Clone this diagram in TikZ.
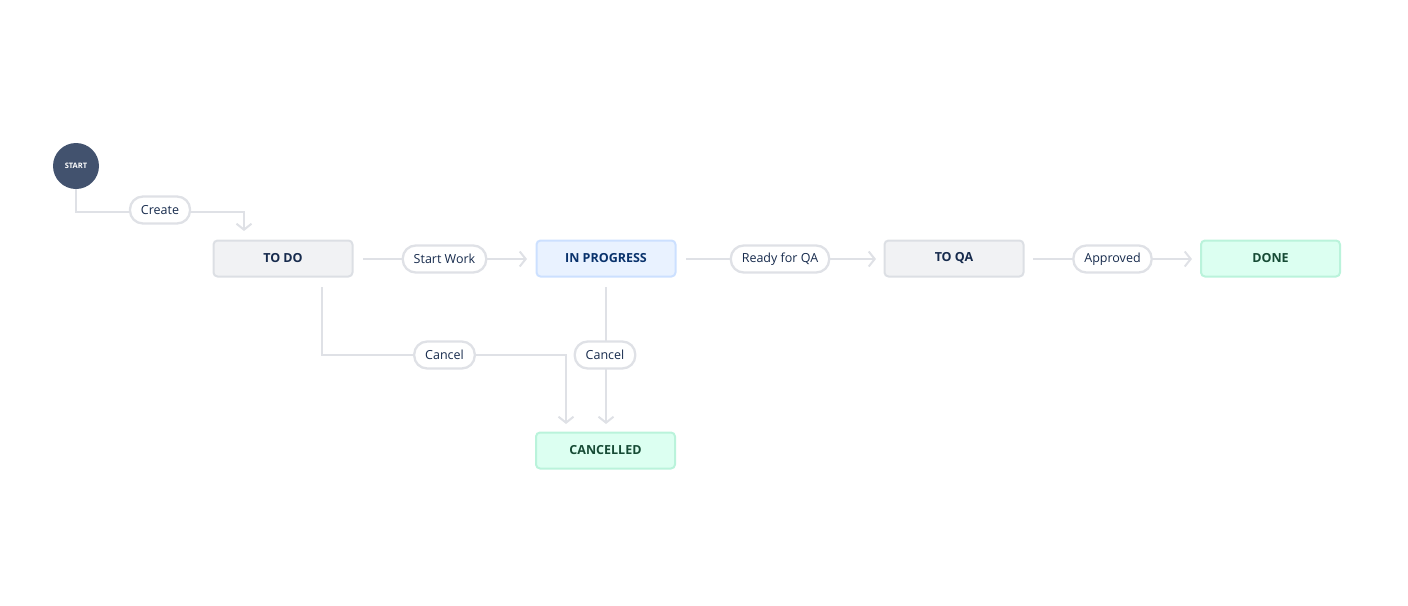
\documentclass[tikz,border=0pt]{standalone}
\usepackage{fontspec}
\setmainfont{Open Sans}
\usetikzlibrary{arrows.meta}
\definecolor{edgec}{HTML}{DFE1E6}
\definecolor{txt}{HTML}{172B4D}
\definecolor{startc}{HTML}{42526E}
\definecolor{grayf}{HTML}{F1F2F4}
\definecolor{grayb}{HTML}{DCDFE4}
\definecolor{bluef}{HTML}{E9F2FF}
\definecolor{blueb}{HTML}{CCE0FF}
\definecolor{bluet}{HTML}{09326C}
\definecolor{greenf}{HTML}{DCFFF1}
\definecolor{greenb}{HTML}{BAF3DB}
\definecolor{greent}{HTML}{164B35}
\tikzset{
  status/.style={draw, line width=2pt, rounded corners=4pt, minimum width=139pt, minimum height=36pt,
    inner sep=0pt, font=\fontsize{12.5}{13}\selectfont\bfseries},
  graystat/.style={status, fill=grayf, draw=grayb, text=txt},
  bluestat/.style={status, fill=bluef, draw=blueb, text=bluet},
  greenstat/.style={status, fill=greenf, draw=greenb, text=greent},
  pill/.style={draw=edgec, line width=2.3pt, fill=white, rounded corners=13pt, minimum height=27pt,
    inner xsep=11pt, inner ysep=0pt, text=txt, font=\fontsize{12.5}{13}\selectfont},
  conn/.style={draw=edgec, line width=2pt, -{Straight Barb[length=6pt,width=15pt,line width=2pt]}},
}
\begin{document}
\begin{tikzpicture}[x=1pt,y=-1pt]
\useasboundingbox (0,0) rectangle (1408,605);
% nodes
\node[circle, fill=startc, minimum size=46pt, inner sep=0pt, text=white, font=\fontsize{7.5}{8}\selectfont\bfseries] (start) at (76,166) {START};
\node[graystat] (todo) at (283,258.5) {TO DO};
\node[bluestat] (inprog) at (606,258.5) {IN PROGRESS};
\node[graystat] (toqa) at (954,258.5) {TO QA};
\node[greenstat] (done) at (1270.5,258.5) {DONE};
\node[greenstat] (canc) at (605.5,450.5) {CANCELLED};
% coordinates
\coordinate (c1) at (76,212);
\coordinate (c2) at (244,212);
\coordinate (c3) at (244,231);
\coordinate (sw0) at (363,259);
\coordinate (sw1) at (527,259);
\coordinate (rq0) at (686,259);
\coordinate (rq1) at (876,259);
\coordinate (ap0) at (1033,259);
\coordinate (ap1) at (1192,259);
\coordinate (k0) at (322,287);
\coordinate (k1) at (322,355);
\coordinate (k2) at (566,355);
\coordinate (k3) at (566,424);
\coordinate (m0) at (606,287);
\coordinate (m1) at (606,424);
% connectors
\draw[conn] (start.south) -- (c1) -- (c2) -- (c3);
\draw[conn] (sw0) -- (sw1);
\draw[conn] (rq0) -- (rq1);
\draw[conn] (ap0) -- (ap1);
\draw[conn] (k0) -- (k1) -- (k2) -- (k3);
\draw[conn] (m0) -- (m1);
% labels
\node[pill] (lcreate) at (160,210) {Create};
\node[pill] (lstart) at (444.5,259) {Start Work};
\node[pill] (lready) at (780,259) {Ready for QA};
\node[pill] (lappr) at (1112.5,259) {Approved};
\node[pill] (lcan1) at (444.5,355) {Cancel};
\node[pill] (lcan2) at (605,355) {Cancel};
\end{tikzpicture}
\end{document}
